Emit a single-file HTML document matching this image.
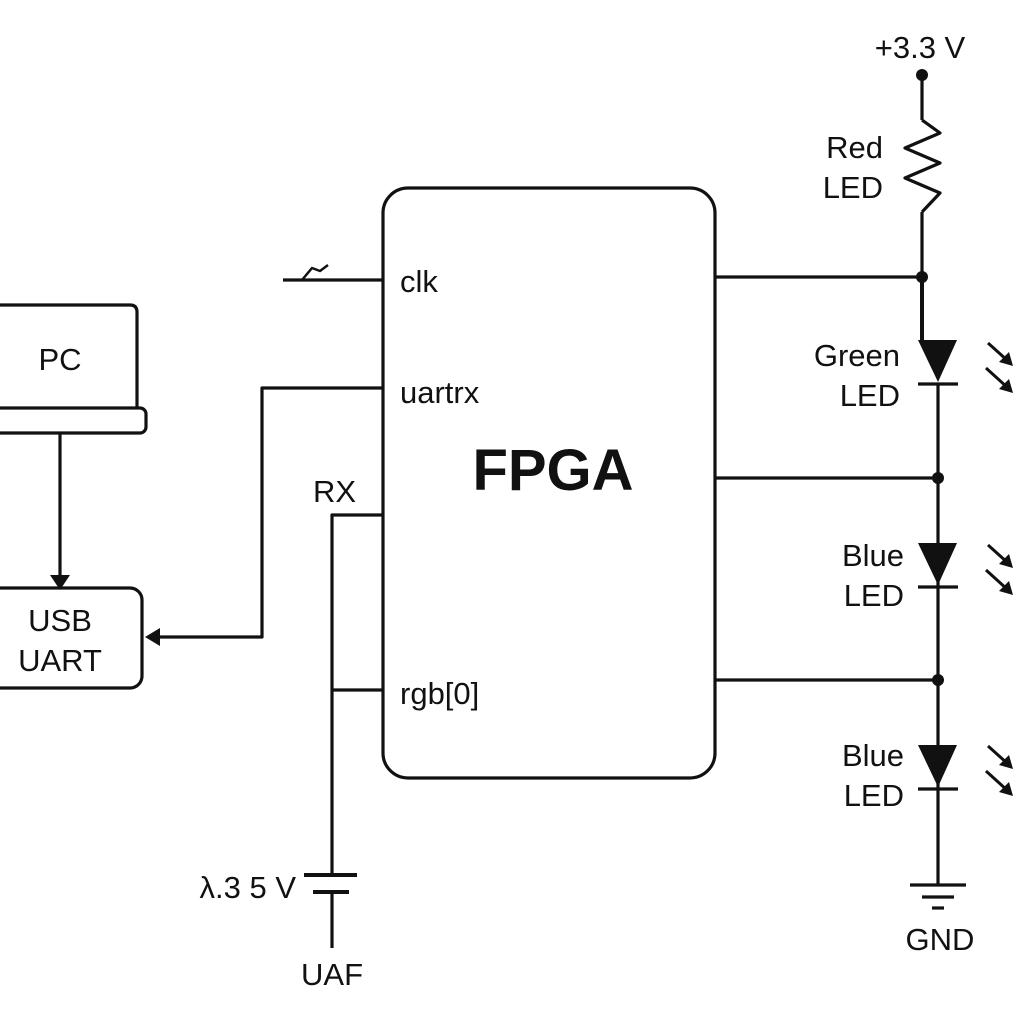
<!DOCTYPE html>
<html><head><meta charset="utf-8"><style>
html,body{margin:0;padding:0;background:#fff;}
svg{display:block;}
text{font-family:"Liberation Sans",Arial,sans-serif;fill:#111;}
</style></head><body>
<svg width="1024" height="1024" viewBox="0 0 1024 1024" xmlns="http://www.w3.org/2000/svg">
<g fill="none" stroke="#111" stroke-width="3.2" stroke-linejoin="round">
<!-- PC -->
<path d="M-10 305 H130 Q137 305 137 312 V408"/>
<rect x="-20" y="408" width="166" height="25" rx="6"/>
<line x1="60" y1="433" x2="60" y2="582"/>
<!-- USB UART -->
<rect x="-20" y="588" width="162" height="100" rx="12"/>
<!-- FPGA -->
<rect x="383" y="188" width="332" height="590" rx="25"/>
<!-- clk -->
<line x1="283" y1="280" x2="383" y2="280"/>
<polyline points="302,280 312,268 320,271 328,265" stroke-width="2.5"/>
<!-- uartrx -->
<polyline points="383,388 262,388 262,637 152,637"/>
<!-- RX -->
<polyline points="383,515 332,515 332,875"/>
<line x1="332" y1="690" x2="383" y2="690"/>
<!-- battery -->
<line x1="304" y1="875" x2="357" y2="875" stroke-width="4"/>
<line x1="313" y1="892" x2="349" y2="892" stroke-width="4"/>
<line x1="332" y1="892" x2="332" y2="948"/>
<!-- right side -->
<line x1="922" y1="75" x2="922" y2="120"/>
<polyline points="922,120 940,133 905,148 940,163 905,178 940,193 922,212" />
<line x1="922" y1="212" x2="922" y2="340"/>
<line x1="922" y1="277" x2="922" y2="340" stroke-width="4"/>
<line x1="715" y1="277" x2="922" y2="277"/>
<line x1="938" y1="384" x2="938" y2="885"/>
<line x1="715" y1="478" x2="938" y2="478"/>
<line x1="715" y1="680" x2="938" y2="680"/>
<line x1="918" y1="384" x2="958" y2="384"/>
<line x1="918" y1="587" x2="958" y2="587"/>
<line x1="918" y1="789" x2="958" y2="789"/>
<!-- GND -->
<line x1="910" y1="885" x2="966" y2="885"/>
<line x1="922" y1="897" x2="954" y2="897"/>
<line x1="932" y1="908" x2="944" y2="908"/>
<!-- light arrows -->
<g stroke-width="3">
<line x1="988" y1="343" x2="1008" y2="361"/><line x1="986" y1="368" x2="1008" y2="388"/>
<line x1="988" y1="545" x2="1008" y2="563"/><line x1="986" y1="570" x2="1008" y2="590"/>
<line x1="988" y1="746" x2="1008" y2="764"/><line x1="986" y1="771" x2="1008" y2="791"/>
</g>
</g>
<g fill="#111" stroke="none">
<polygon points="50,575 70,575 60,590"/>
<polygon points="145,637 160,628 160,646"/>
<circle cx="922" cy="75" r="6"/>
<circle cx="922" cy="277" r="6"/>
<circle cx="938" cy="478" r="6"/>
<circle cx="938" cy="680" r="6"/>
<polygon points="918,340 957,340 938,382"/>
<polygon points="918,543 957,543 938,585"/>
<polygon points="918,745 957,745 938,787"/>
<polygon points="1013,366 999,362 1009,352"/><polygon points="1013,393 999,389 1009,379"/>
<polygon points="1013,568 999,564 1009,554"/><polygon points="1013,595 999,591 1009,581"/>
<polygon points="1013,769 999,765 1009,755"/><polygon points="1013,796 999,792 1009,782"/>
</g>
<g font-size="31">
<text x="60" y="370" text-anchor="middle">PC</text>
<text x="60" y="631" text-anchor="middle">USB</text>
<text x="60" y="671" text-anchor="middle">UART</text>
<text x="400" y="292">clk</text>
<text x="400" y="403">uartrx</text>
<text x="400" y="704">rgb[0]</text>
<text x="313" y="502">RX</text>
<text x="296" y="898" text-anchor="end">λ.3 5 V</text>
<text x="332" y="985" text-anchor="middle">UAF</text>
<text x="920" y="58" text-anchor="middle">+3.3 V</text>
<text x="883" y="158" text-anchor="end">Red</text>
<text x="883" y="198" text-anchor="end">LED</text>
<text x="900" y="366" text-anchor="end">Green</text>
<text x="900" y="406" text-anchor="end">LED</text>
<text x="904" y="566" text-anchor="end">Blue</text>
<text x="904" y="606" text-anchor="end">LED</text>
<text x="904" y="766" text-anchor="end">Blue</text>
<text x="904" y="806" text-anchor="end">LED</text>
<text x="940" y="950" text-anchor="middle">GND</text>
<text x="553" y="490" text-anchor="middle" font-size="58" font-weight="bold">FPGA</text>
</g>
</svg>
</body></html>
